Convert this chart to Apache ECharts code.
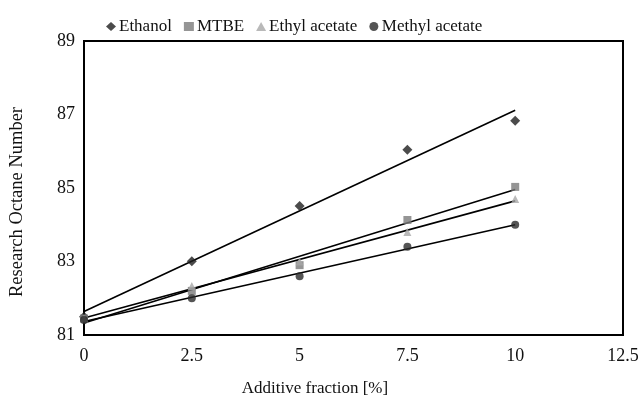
<!DOCTYPE html>
<html>
<head>
<meta charset="utf-8">
<script src="https://cdn.jsdelivr.net/npm/echarts@6/dist/echarts.min.js"></script>
<style>
  html, body { margin: 0; padding: 0; background: #fff; }
  #chart { width: 643px; height: 405px; }
</style>
</head>
<body>
<div id="chart"></div>
<script>
// Data
var fractions = [0, 2.5, 5, 7.5, 10];
var ethanol = [81.5, 83.01, 84.51, 86.04, 86.83];
var mtbe = [81.45, 82.2, 82.9, 84.13, 85.03];
var ethylAcetate = [81.45, 82.33, 83.0, 83.8, 84.7];
var methylAcetate = [81.41, 82.0, 82.6, 83.4, 84.0];
var xTicks = [0, 2.5, 5, 7.5, 10, 12.5];
var yTicks = [81, 83, 85, 87, 89];

// Least-squares trend line through the points
function trend(xs, ys) {
    var n = xs.length, mx = 0, my = 0;
    for (var i = 0; i < n; i++) { mx += xs[i]; my += ys[i]; }
    mx /= n; my /= n;
    var sxy = 0, sxx = 0;
    for (var j = 0; j < n; j++) {
        sxy += (xs[j] - mx) * (ys[j] - my);
        sxx += (xs[j] - mx) * (xs[j] - mx);
    }
    var b = sxy / sxx, a = my - b * mx;
    var x0 = xs[0], x1 = xs[n - 1];
    return [[x0, a + b * x0], [x1, a + b * x1]];
}

function pairs(xs, ys) {
    return xs.map(function (x, i) { return [x, ys[i]]; });
}

var font = '"Liberation Serif", "DejaVu Serif", serif';
var groups = [
    { name: 'Ethanol', values: ethanol, symbol: 'diamond', color: '#1e1e1e', size: 10 },
    { name: 'MTBE', values: mtbe, symbol: 'rect', color: '#7a7a7a', size: 8 },
    { name: 'Ethyl acetate', values: ethylAcetate, symbol: 'triangle', color: '#a8a8a8', size: 8 },
    { name: 'Methyl acetate', values: methylAcetate, symbol: 'circle', color: '#2a2a2a', size: 8 }
];

var series = [];
groups.forEach(function (g) {
    series.push({
        name: g.name,
        type: 'scatter',
        symbol: g.symbol,
        symbolSize: g.size,
        itemStyle: { color: g.color },
        data: pairs(fractions, g.values),
        z: 3
    });
    series.push({
        name: g.name + ' trend',
        type: 'line',
        showSymbol: false,
        symbol: 'none',
        lineStyle: { color: '#000', width: 1.6 },
        data: trend(fractions, g.values),
        silent: true,
        z: 2
    });
});

var chart = echarts.init(document.getElementById('chart'));
chart.setOption({
    animation: false,
    textStyle: { fontFamily: font },
    legend: {
        top: 13,
        left: 101,
        itemGap: 12,
        itemWidth: 10,
        itemHeight: 9,
        data: groups.map(function (g) { return { name: g.name, icon: g.symbol }; }),
        textStyle: { fontFamily: font, fontSize: 17, color: '#111', padding: [0, 0, 0, -2] }
    },
    grid: {
        left: 84, right: 20, top: 41, bottom: 70,
        show: true, borderColor: '#000', borderWidth: 2, backgroundColor: '#fff'
    },
    xAxis: {
        type: 'value',
        min: xTicks[0],
        max: xTicks[xTicks.length - 1],
        interval: 2.5,
        name: 'Additive fraction [%]',
        nameLocation: 'middle',
        nameGap: 45,
        nameTextStyle: { fontFamily: font, fontSize: 17, color: '#111', padding: [0, 77, 0, 0] },
        axisLine: { show: true, lineStyle: { color: '#000', width: 2 } },
        axisTick: { show: false },
        splitLine: { show: false },
        axisLabel: { margin: 12, fontFamily: font, fontSize: 18, color: '#111' }
    },
    yAxis: {
        type: 'value',
        min: yTicks[0],
        max: yTicks[yTicks.length - 1],
        interval: 2,
        name: 'Research Octane Number',
        nameLocation: 'middle',
        nameGap: 57,
        nameTextStyle: { fontFamily: font, fontSize: 18.5, color: '#111', padding: [0, 28, 0, 0] },
        axisLine: { show: true, lineStyle: { color: '#000', width: 2 } },
        axisTick: { show: false },
        splitLine: { show: false },
        axisLabel: { margin: 9, fontFamily: font, fontSize: 18, color: '#111', padding: [10, 0, 0, 0] }
    },
    series: series
});
</script>
</body>
</html>
